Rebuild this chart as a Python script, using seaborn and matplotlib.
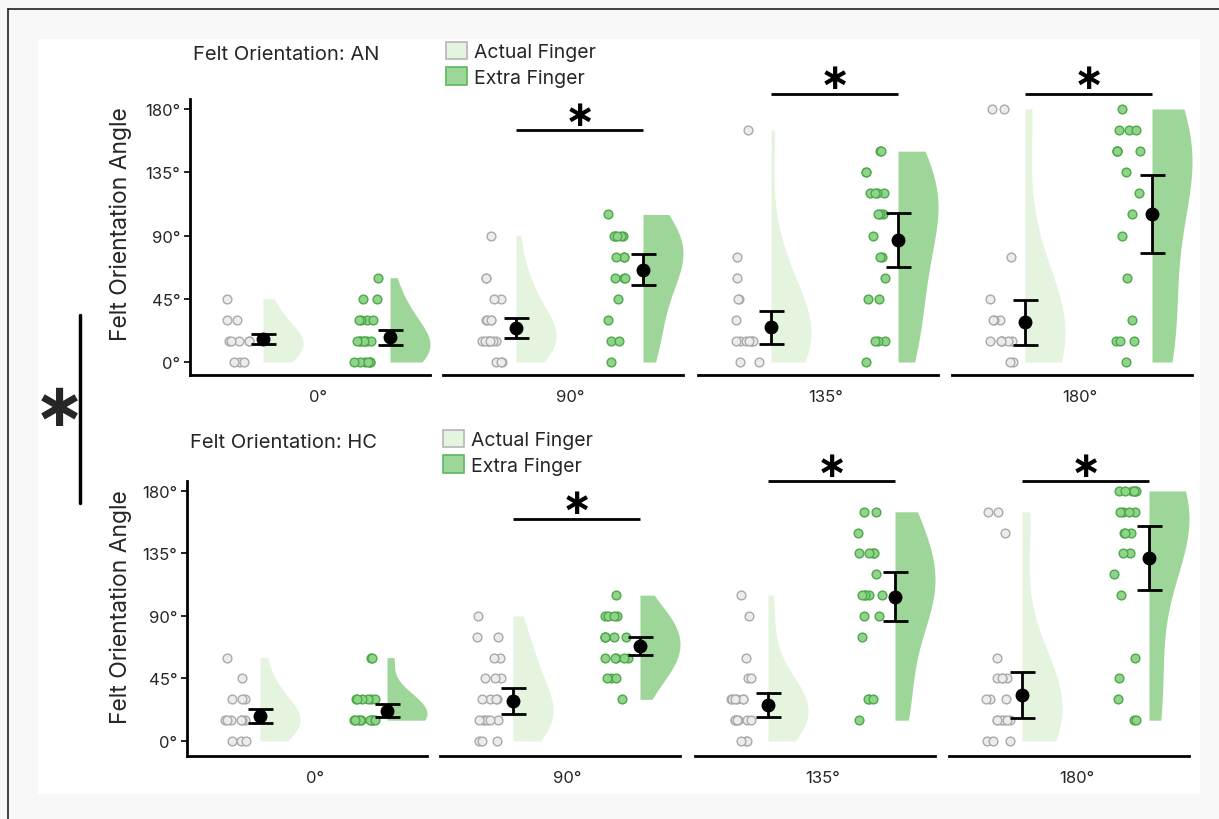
import numpy as np
import pandas as pd
import matplotlib
matplotlib.use("Agg")
import matplotlib.pyplot as plt
import seaborn as sns
from matplotlib.patches import Patch, Rectangle
from matplotlib.lines import Line2D

# ---- data (angles in degrees) ----
orientations = ["0°", "90°", "135°", "180°"]
conditions = ["Actual Finger", "Extra Finger"]

# AN group, one list per rotated orientation
an_actual = [
    [0, 0, 0, 15, 15, 15, 15, 15, 30, 30, 45],
    [0, 0, 0, 15, 15, 15, 15, 15, 15, 15, 30, 30, 30, 30, 45, 45, 60, 60, 90],
    [0, 0, 15, 15, 15, 15, 15, 15, 15, 30, 45, 45, 60, 75, 165],
    [0, 0, 15, 15, 15, 15, 15, 15, 30, 30, 30, 45, 75, 180, 180],
]
an_extra = [
    [0, 0, 0, 0, 0, 0, 15, 15, 15, 15, 15, 15, 15, 30, 30, 30, 30, 45, 45, 60],
    [0, 15, 15, 30, 45, 60, 60, 60, 75, 75, 75, 90, 90, 90, 90, 90, 105],
    [0, 15, 15, 15, 45, 45, 60, 75, 75, 90, 105, 105, 105, 120, 120, 120, 120,
     135, 135, 150, 150],
    [0, 15, 15, 15, 30, 60, 90, 105, 120, 135, 150, 150, 150, 150, 165, 165,
     165, 180],
]
# HC group
hc_actual = [
    [0, 0, 0, 15, 15, 15, 15, 15, 15, 30, 30, 30, 45, 60],
    [0, 0, 0, 15, 15, 15, 15, 15, 15, 30, 30, 30, 30, 45, 45, 45, 60, 60, 75,
     75, 90],
    [0, 0, 0, 15, 15, 15, 15, 15, 15, 30, 30, 30, 30, 30, 30, 45, 45, 60, 90,
     105],
    [0, 0, 0, 15, 15, 15, 15, 15, 15, 30, 30, 30, 45, 45, 45, 45, 60, 150, 165,
     165],
]
hc_extra = [
    [15, 15, 15, 15, 15, 15, 15, 15, 15, 30, 30, 30, 30, 30, 30, 60, 60],
    [30, 45, 45, 45, 60, 60, 60, 60, 60, 75, 75, 75, 75, 75, 90, 90, 90, 90,
     105],
    [15, 30, 30, 30, 75, 90, 90, 105, 105, 105, 105, 105, 120, 135, 135, 135,
     135, 150, 165, 165],
    [15, 15, 30, 45, 60, 105, 120, 135, 135, 150, 150, 150, 165, 165, 165, 165,
     180, 180, 180, 180, 180, 180],
]

# mean and standard error as printed in the figure
an_mean_actual = [16.4, 24.0, 24.7, 28.2]
an_se_actual = [3.6, 7.0, 11.7, 16.0]
an_mean_extra = [17.5, 65.5, 86.8, 105.3]
an_se_extra = [5.3, 11.0, 19.0, 28.0]
hc_mean_actual = [18.2, 28.6, 25.9, 33.1]
hc_se_actual = [5.0, 9.3, 8.7, 16.8]
hc_mean_extra = [21.8, 68.6, 103.9, 131.7]
hc_se_extra = [4.5, 6.5, 17.7, 22.8]

significant = [False, True, True, True]

# ---- style ----
violin_fill = {"Actual Finger": "#e4f4de", "Extra Finger": "#9dd698"}
dot_fill = {"Actual Finger": "#ececec", "Extra Finger": "#8fd48a"}
dot_edge = {"Actual Finger": "#aaaaaa", "Extra Finger": "#4ea84b"}
patch_edge = {"Actual Finger": "#b5b5b5", "Extra Finger": "#5cb85c"}

VW = 0.315  # max width of a half violin (x units)

sns.set_theme(style="white")
plt.rcParams["font.family"] = ["Inter", "DejaVu Sans"]

np.random.seed(3)

W, H = 1219, 820
fig = plt.figure(figsize=(W / 100, H / 100), dpi=100)
fig.patch.set_facecolor("#f8f8f8")
fig.add_artist(Rectangle((38 / W, 1 - 795 / H), (1200 - 38) / W, (795 - 40) / H,
                         transform=fig.transFigure, facecolor="white",
                         edgecolor="none", zorder=-10))
fig.add_artist(Line2D([8 / W, 8 / W], [0, 1 - 10 / H], transform=fig.transFigure,
                      color="#222222", lw=1.2))
fig.add_artist(Line2D([8 / W, 1], [1 - 10 / H, 1 - 10 / H], transform=fig.transFigure,
                      color="#222222", lw=1.2))


def px_axes(left, top, right, bottom):
    return fig.add_axes([left / W, 1 - bottom / H, (right - left) / W, (bottom - top) / H])


def sig_star(ax, x, y, size):
    ax.text(x, y, "∗", ha="center", va="center", fontsize=size,
            family="DejaVu Sans", fontweight="bold", color="black")


def draw_panel(ax, actual, extra, means, ses, label, ylim, sig_y, first):
    for pos, cond, vals in [(0, conditions[0], actual), (1, conditions[1], extra)]:
        df = pd.DataFrame({"angle": vals})
        # a split violin's flat side sits half its width left of x
        df["vpos"] = pos + VW / 2
        df["dotpos"] = pos - 0.19
        df["cond"] = cond
        sns.violinplot(data=df, x="vpos", y="angle", hue="cond",
                       hue_order=["_pad", cond],
                       palette={"_pad": "white", cond: violin_fill[cond]},
                       native_scale=True, split=True, dodge=False, inner=None,
                       cut=0, bw_adjust=1.3, density_norm="width", width=VW,
                       linewidth=0, saturation=1, legend=False, ax=ax)
        sns.stripplot(data=df, x="dotpos", y="angle", native_scale=True,
                      jitter=0.1, size=6.3, color=dot_fill[cond],
                      edgecolor=dot_edge[cond], linewidth=1, ax=ax, zorder=3)
        ax.errorbar([pos], [means[pos]], yerr=[ses[pos]], fmt="o", color="black",
                    ms=9, capsize=9, elinewidth=2, capthick=2, zorder=5)

    ax.set_xlim(-0.575, 1.315)
    ax.set_ylim(*ylim)
    ax.set_xlabel("")
    ax.set_ylabel("")
    ax.set_xticks([0.43], [label])
    ax.tick_params(axis="x", length=0, pad=10, labelsize=12)
    for s in ["top", "right"]:
        ax.spines[s].set_visible(False)
    ax.spines["bottom"].set_linewidth(2)
    ax.spines["bottom"].set_color("black")
    if first:
        ax.spines["left"].set_linewidth(2)
        ax.spines["left"].set_color("black")
        ax.spines["left"].set_bounds(ylim[0], 187)
        ax.set_yticks([0, 45, 90, 135, 180], ["0°", "45°", "90°", "135°", "180°"])
        ax.tick_params(axis="y", length=4, width=1.2, labelsize=12, left=True,
                       color="black", pad=3)
    else:
        ax.spines["left"].set_visible(False)
        ax.set_yticks([])

    if sig_y is not None:
        ax.plot([0, 1], [sig_y, sig_y], color="black", lw=2, solid_capstyle="butt")
        sig_star(ax, 0.5, sig_y + 11, 26)


rows = [
    ("AN", an_actual, an_extra, (an_mean_actual, an_mean_extra),
     (an_se_actual, an_se_extra), 50, 376, (-9.25, 222.7), [None, 165, 191, 191],
     [190, 443, 698, 952]),
    ("HC", hc_actual, hc_extra, (hc_mean_actual, hc_mean_extra),
     (hc_se_actual, hc_se_extra), 435, 757, (-10.8, 221.0), [None, 160, 187, 187],
     [187, 440, 695, 949]),
]

for name, act, ext, (m_a, m_e), (s_a, s_e), top, bottom, ylim, sig_ys, lefts in rows:
    for i, left in enumerate(lefts):
        ax = px_axes(left, top, left + 240, bottom)
        ax.patch.set_alpha(0)
        draw_panel(ax, act[i], ext[i], [m_a[i], m_e[i]], [s_a[i], s_e[i]],
                   orientations[i], ylim, sig_ys[i] if significant[i] else None,
                   i == 0)
        if i == 0:
            ax.set_ylabel("Felt Orientation Angle", fontsize=16.5)
            ax.yaxis.set_label_coords((132 - left) / 240, 0.465)

    title_y = 55 if name == "AN" else 443
    fig.text(lefts[0] / W + 3 / W, 1 - title_y / H, f"Felt Orientation: {name}",
             ha="left", va="center", fontsize=14.5)
    handles = [Patch(facecolor=violin_fill[c], edgecolor=patch_edge[c], lw=1.2)
               for c in conditions]
    fig.legend(handles, conditions, loc="upper left",
               bbox_to_anchor=((lefts[0] + 256) / W, 1 - (title_y - 12) / H),
               frameon=False, fontsize=14, handlelength=1.1, handleheight=1.0,
               handletextpad=0.35, labelspacing=0.3, borderpad=0, borderaxespad=0)

# overall group difference marker on the left
fig.add_artist(Line2D([80 / W, 80 / W], [1 - 316 / H, 1 - 504 / H],
                      transform=fig.transFigure, color="black", lw=2.5))
fig.text(59 / W, 1 - 410 / H, "∗", ha="center", va="center", fontsize=44,
         family="DejaVu Sans", fontweight="bold")

fig.savefig("out.png", dpi=100)
